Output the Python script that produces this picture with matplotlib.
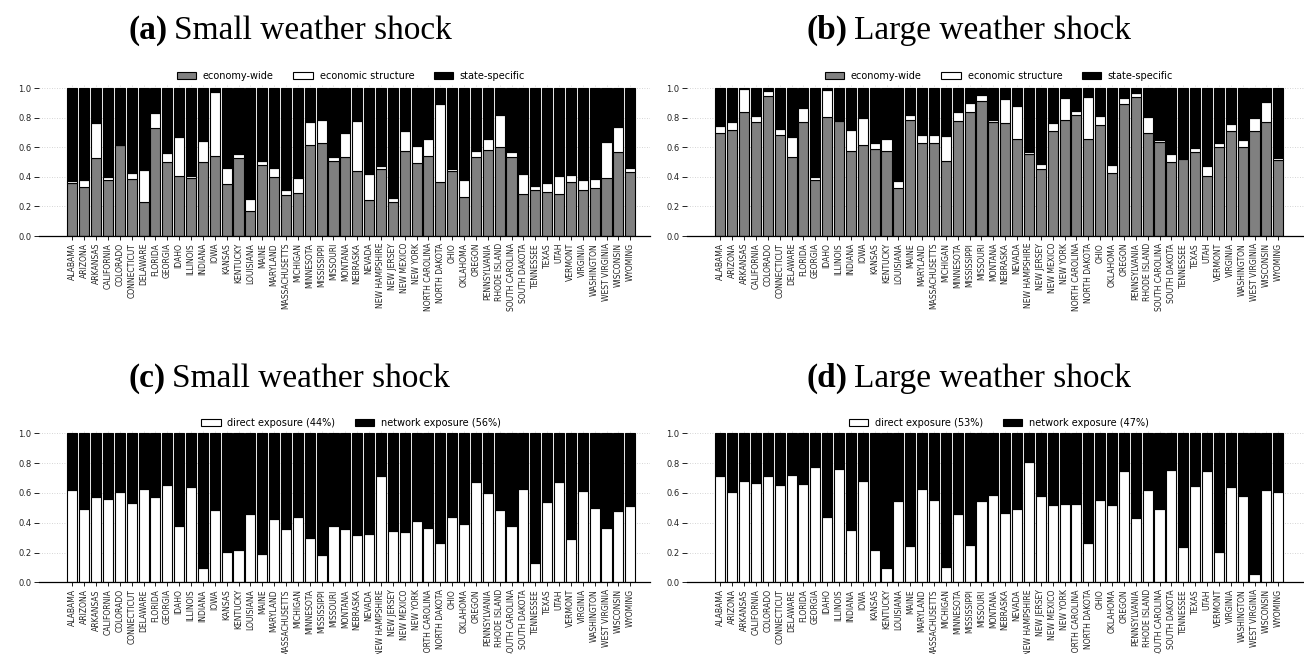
import numpy as np
import matplotlib
matplotlib.use("Agg")
import matplotlib.pyplot as plt

states = [
    "ALABAMA", "ARIZONA", "ARKANSAS", "CALIFORNIA", "COLORADO", "CONNECTICUT",
    "DELAWARE", "FLORIDA", "GEORGIA", "IDAHO", "ILLINOIS", "INDIANA", "IOWA",
    "KANSAS", "KENTUCKY", "LOUISIANA", "MAINE", "MARYLAND", "MASSACHUSETTS",
    "MICHIGAN", "MINNESOTA", "MISSISSIPPI", "MISSOURI", "MONTANA", "NEBRASKA",
    "NEVADA", "NEW HAMPSHIRE", "NEW JERSEY", "NEW MEXICO", "NEW YORK",
    "NORTH CAROLINA", "NORTH DAKOTA", "OHIO", "OKLAHOMA", "OREGON",
    "PENNSYLVANIA", "RHODE ISLAND", "SOUTH CAROLINA", "SOUTH DAKOTA",
    "TENNESSEE", "TEXAS", "UTAH", "VERMONT", "VIRGINIA", "WASHINGTON",
    "WEST VIRGINIA", "WISCONSIN", "WYOMING",
]

# Variance decomposition, small weather shock
small_economy_wide = [
    0.356, 0.329, 0.530, 0.380, 0.613, 0.385, 0.227, 0.730, 0.500, 0.403,
    0.392, 0.498, 0.540, 0.349, 0.527, 0.171, 0.477, 0.396, 0.277, 0.293,
    0.613, 0.628, 0.507, 0.532, 0.441, 0.243, 0.450, 0.230, 0.577, 0.491,
    0.538, 0.363, 0.439, 0.264, 0.532, 0.581, 0.601, 0.532, 0.282, 0.309,
    0.300, 0.282, 0.363, 0.309, 0.324, 0.392, 0.565, 0.434,
]
small_structure = [
    0.018, 0.049, 0.233, 0.020, 0.004, 0.038, 0.219, 0.100, 0.059, 0.268,
    0.013, 0.144, 0.433, 0.108, 0.025, 0.079, 0.028, 0.061, 0.034, 0.101,
    0.155, 0.156, 0.027, 0.166, 0.336, 0.174, 0.020, 0.027, 0.135, 0.115,
    0.120, 0.527, 0.014, 0.112, 0.045, 0.077, 0.214, 0.038, 0.137, 0.031,
    0.058, 0.121, 0.047, 0.071, 0.063, 0.245, 0.169, 0.028,
]

# Variance decomposition, large weather shock
large_economy_wide = [
    0.698, 0.714, 0.840, 0.770, 0.944, 0.685, 0.532, 0.773, 0.376, 0.802,
    0.777, 0.572, 0.613, 0.586, 0.572, 0.327, 0.782, 0.626, 0.631, 0.505,
    0.775, 0.836, 0.910, 0.770, 0.766, 0.655, 0.556, 0.450, 0.709, 0.784,
    0.815, 0.655, 0.748, 0.423, 0.894, 0.937, 0.694, 0.635, 0.500, 0.522,
    0.565, 0.408, 0.599, 0.709, 0.599, 0.709, 0.770, 0.514,
]
large_structure = [
    0.047, 0.059, 0.151, 0.040, 0.033, 0.035, 0.139, 0.090, 0.020, 0.184,
    0.007, 0.144, 0.182, 0.045, 0.081, 0.047, 0.033, 0.059, 0.051, 0.171,
    0.063, 0.060, 0.045, 0.014, 0.160, 0.225, 0.012, 0.034, 0.055, 0.146,
    0.027, 0.286, 0.062, 0.059, 0.036, 0.027, 0.110, 0.011, 0.054, 0.006,
    0.027, 0.065, 0.027, 0.048, 0.047, 0.086, 0.138, 0.011,
]

# Direct vs. network exposure shares
small_direct = [
    0.617, 0.492, 0.573, 0.557, 0.604, 0.532, 0.626, 0.573, 0.653, 0.378,
    0.640, 0.098, 0.485, 0.201, 0.219, 0.461, 0.192, 0.427, 0.356, 0.441,
    0.300, 0.181, 0.376, 0.358, 0.318, 0.324, 0.711, 0.345, 0.336, 0.414,
    0.367, 0.266, 0.436, 0.389, 0.673, 0.597, 0.483, 0.378, 0.626, 0.128,
    0.539, 0.673, 0.289, 0.613, 0.497, 0.365, 0.481, 0.512,
]
large_direct = [
    0.714, 0.609, 0.680, 0.667, 0.714, 0.653, 0.720, 0.660, 0.776, 0.436,
    0.758, 0.351, 0.680, 0.215, 0.096, 0.548, 0.242, 0.624, 0.550, 0.101,
    0.456, 0.248, 0.544, 0.588, 0.463, 0.492, 0.805, 0.582, 0.517, 0.523,
    0.523, 0.262, 0.553, 0.517, 0.749, 0.434, 0.617, 0.492, 0.756, 0.239,
    0.647, 0.747, 0.201, 0.638, 0.582, 0.058, 0.617, 0.606,
]

small_shares = ("direct exposure (44%)", "network exposure (56%)")
large_shares = ("direct exposure (53%)", "network exposure (47%)")
decomp_labels = ("economy-wide", "economic structure", "state-specific")
titles = [("(a)", "Small weather shock"), ("(b)", "Large weather shock"),
          ("(c)", "Small weather shock"), ("(d)", "Large weather shock")]

W, H = 1304, 654
fig = plt.figure(figsize=(W / 100, H / 100), dpi=100)

GRAY = "#808080"
TICK_FS = 5.5
LEG_FS = 7
PX_PER_BAR = 11.87
X_LO = -2.81


def px_axes(left, right, y0_from_top, y1_from_top, ytop=1.02):
    """Axes whose 0.0 line sits at y0 and 1.0 line at y1 (pixels from top)."""
    unit = y0_from_top - y1_from_top
    bottom = H - y0_from_top
    height = unit * ytop
    ax = fig.add_axes([left / W, bottom / H, (right - left) / W, height / H])
    ax.set_ylim(0, ytop)
    ax.set_xlim(X_LO, X_LO + (right - left) / PX_PER_BAR)
    return ax


def style(ax, n):
    x = np.arange(n)
    for s in ("top", "right", "left"):
        ax.spines[s].set_visible(False)
    ax.spines["bottom"].set_linewidth(0.9)
    ax.set_axisbelow(True)
    ax.grid(True, axis="both", linestyle=(0, (1, 2)), color="#c8c8c8", linewidth=0.6)
    ax.set_yticks(np.arange(0, 1.01, 0.2))
    ax.set_yticklabels([f"{v:.1f}" for v in np.arange(0, 1.01, 0.2)])
    ax.set_xticks(x)
    ax.set_xticklabels(states, rotation=90, fontsize=TICK_FS)
    ax.tick_params(axis="y", labelsize=TICK_FS + 0.5, length=3.5, width=0.7, pad=2,
                   colors="#222222")
    ax.tick_params(axis="x", length=3, width=0.7, pad=2, colors="#222222")


def decomposition(ax, econ, struct, leg_cx, leg_cy):
    x = np.arange(len(states))
    econ = np.asarray(econ)
    struct = np.asarray(struct)
    rest = 1.0 - econ - struct
    kw = dict(width=0.85, edgecolor="black", linewidth=0.8)
    b1 = ax.bar(x, econ, color=GRAY, **kw)
    b2 = ax.bar(x, struct, bottom=econ, color="white", **kw)
    b3 = ax.bar(x, rest, bottom=econ + struct, color="black", **kw)
    style(ax, len(states))
    ax.legend([b1, b2, b3], decomp_labels, loc="center", ncol=3, frameon=False,
              fontsize=LEG_FS, handlelength=2.0, handleheight=0.7,
              handletextpad=0.7, columnspacing=2.0,
              bbox_to_anchor=(leg_cx / W, 1 - leg_cy / H),
              bbox_transform=fig.transFigure)


def exposure(ax, direct, labels, leg_cx, leg_cy):
    x = np.arange(len(states))
    direct = np.asarray(direct)
    network = 1.0 - direct
    kw = dict(width=0.85, edgecolor="black", linewidth=0.8)
    b1 = ax.bar(x, direct, color="white", **kw)
    b2 = ax.bar(x, network, bottom=direct, color="black", **kw)
    style(ax, len(states))
    ax.legend([b1, b2], labels, loc="center", ncol=2, frameon=False,
              fontsize=LEG_FS, handlelength=2.0, handleheight=0.7,
              handletextpad=0.7, columnspacing=2.0,
              bbox_to_anchor=(leg_cx / W, 1 - leg_cy / H),
              bbox_transform=fig.transFigure)


ax_a = px_axes(39, 650, 236, 88)
decomposition(ax_a, small_economy_wide, small_structure, 351, 76)
ax_b = px_axes(687, 1304, 236, 88)
decomposition(ax_b, large_economy_wide, large_structure, 999, 76)
ax_c = px_axes(39, 650, 582.3, 433.3)
exposure(ax_c, small_direct, small_shares, 351, 423)
ax_d = px_axes(687, 1304, 582.3, 433.3)
exposure(ax_d, large_direct, large_shares, 999, 423)

# Panel captions: bold letter followed by regular text
serif = ["Liberation Serif", "DejaVu Serif"]
fig.canvas.draw()
renderer = fig.canvas.get_renderer()
caption_pos = [(128, 39), (806, 39), (128, 387), (806, 387)]
for (tag, text), (px, py) in zip(titles, caption_pos):
    t = fig.text(px / W, 1 - py / H, tag, fontsize=24, fontweight="bold",
                 family=serif, ha="left", va="baseline")
    bb = t.get_window_extent(renderer)
    fig.text((bb.x1 + 7) / W, 1 - py / H, text, fontsize=24,
             family=serif, ha="left", va="baseline")

fig.savefig("out.png", dpi=100)
